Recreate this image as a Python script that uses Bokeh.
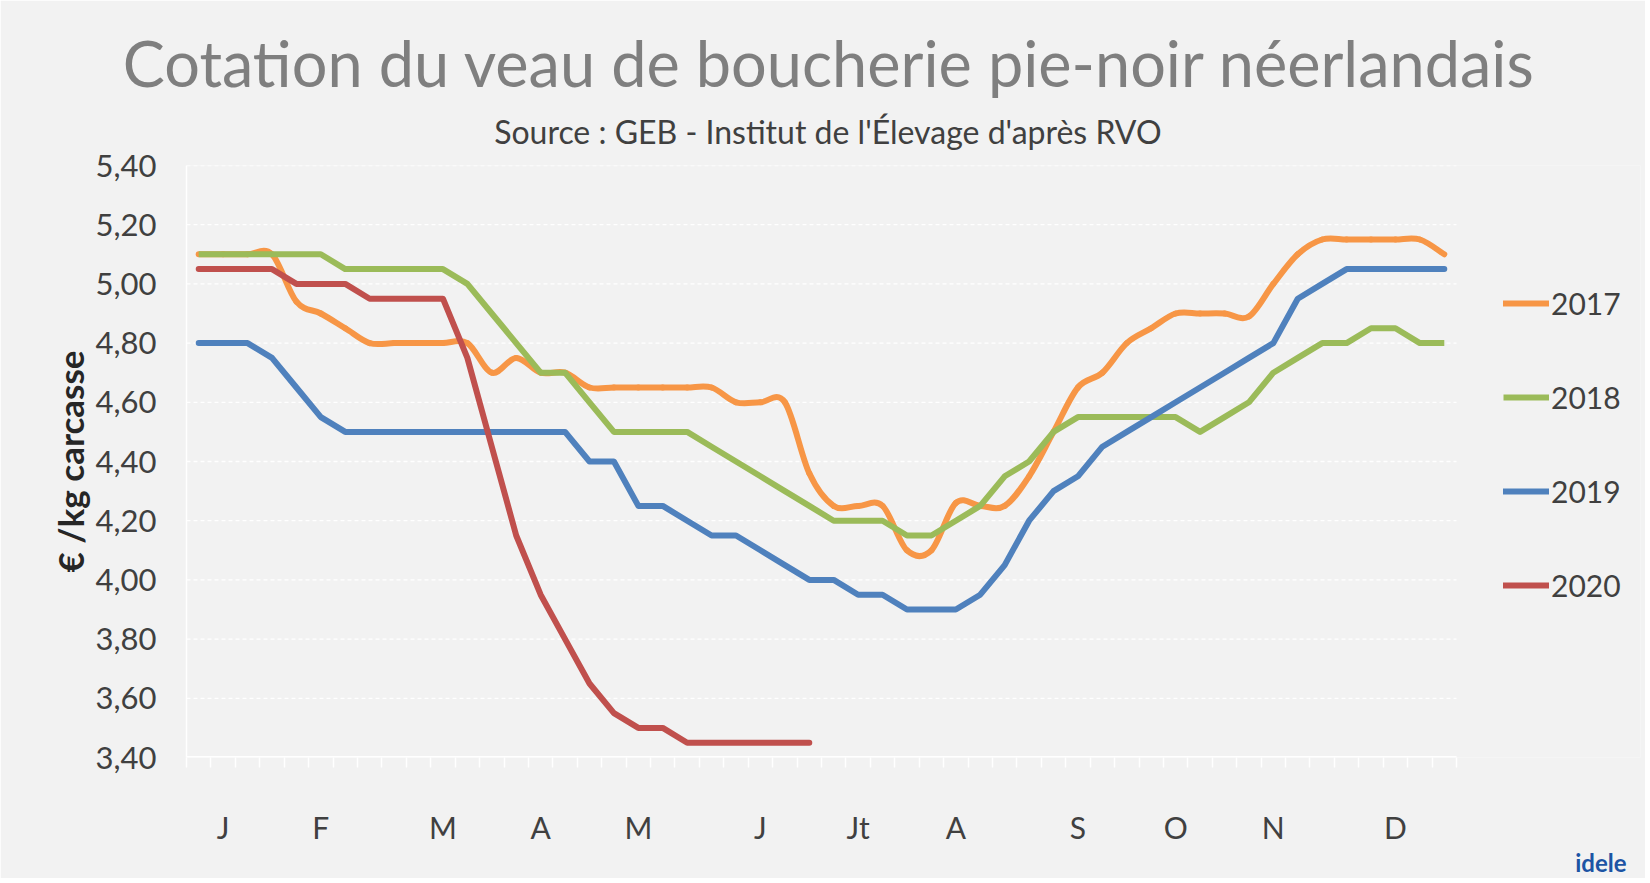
from bokeh.plotting import figure
from bokeh.models import (Range1d, FixedTicker, CustomJSTickFormatter, Legend,
                          LegendItem, Title)
from bokeh.embed import file_html
from bokeh.resources import INLINE

# ---------------- data ----------------
weeks = list(range(1, 53))

s2017 = [5.10, 5.10, 5.10, 5.10, 4.94, 4.90, 4.85, 4.80, 4.80, 4.80,
         4.80, 4.80, 4.70, 4.75, 4.70, 4.70, 4.65, 4.65, 4.65, 4.65,
         4.65, 4.65, 4.60, 4.60, 4.60, 4.36, 4.25, 4.25, 4.25, 4.10,
         4.10, 4.26, 4.25, 4.25, 4.35, 4.50, 4.65, 4.70, 4.80, 4.85,
         4.90, 4.90, 4.90, 4.89, 5.00, 5.10, 5.15, 5.15, 5.15, 5.15,
         5.15, 5.10]

s2018 = [5.10, 5.10, 5.10, 5.10, 5.10, 5.10, 5.05, 5.05, 5.05, 5.05,
         5.05, 5.00, 4.90, 4.80, 4.70, 4.70, 4.60, 4.50, 4.50, 4.50,
         4.50, 4.45, 4.40, 4.35, 4.30, 4.25, 4.20, 4.20, 4.20, 4.15,
         4.15, 4.20, 4.25, 4.35, 4.40, 4.50, 4.55, 4.55, 4.55, 4.55,
         4.55, 4.50, 4.55, 4.60, 4.70, 4.75, 4.80, 4.80, 4.85, 4.85,
         4.80, 4.80]

s2019 = [4.80, 4.80, 4.80, 4.75, 4.65, 4.55, 4.50, 4.50, 4.50, 4.50,
         4.50, 4.50, 4.50, 4.50, 4.50, 4.50, 4.40, 4.40, 4.25, 4.25,
         4.20, 4.15, 4.15, 4.10, 4.05, 4.00, 4.00, 3.95, 3.95, 3.90,
         3.90, 3.90, 3.95, 4.05, 4.20, 4.30, 4.35, 4.45, 4.50, 4.55,
         4.60, 4.65, 4.70, 4.75, 4.80, 4.95, 5.00, 5.05, 5.05, 5.05,
         5.05, 5.05]

weeks2020 = list(range(1, 27))
s2020 = [5.05, 5.05, 5.05, 5.05, 5.00, 5.00, 5.00, 4.95, 4.95, 4.95,
         4.95, 4.75, 4.45, 4.15, 3.95, 3.80, 3.65, 3.55, 3.50, 3.50,
         3.45, 3.45, 3.45, 3.45, 3.45, 3.45]

month_ticks = [2, 6, 11, 15, 19, 24, 28, 32, 37, 41, 45, 50]
month_labels = ["J", "F", "M", "A", "M", "J", "Jt", "A", "S", "O", "N", "D"]
y_ticks = [3.40, 3.60, 3.80, 4.00, 4.20, 4.40, 4.60, 4.80, 5.00, 5.20, 5.40]

series_names = ["2017", "2018", "2019", "2020"]
colors = ["#F79646", "#9BBB59", "#4F81BD", "#C0504D"]

# ---------------- layout ----------------
W, H = 1645, 878
BL, BR, BT, BB = 186, 5, 165, 121
PLOT_W = 1270              # width of the 52-week plotting area in px
FRAME_W = W - BL - BR      # frame also hosts the legend on its right part
X0, X1 = 0.5, 52.5
x_end = X0 + (X1 - X0) * FRAME_W / PLOT_W
FONT = "Lato"
TXT = "#404040"
BG = "#F2F2F2"
LW = 6

p = figure(width=W, height=H, output_backend="svg", toolbar_location=None,
           x_range=Range1d(X0, x_end), y_range=Range1d(y_ticks[0], y_ticks[-1]),
           min_border_left=BL, min_border_right=BR, min_border_top=BT,
           min_border_bottom=BB)
p.background_fill_color = BG
p.border_fill_color = BG
p.outline_line_color = None

# gridlines (dashed) and bottom axis line, limited to the 52-week area
p.xgrid.visible = False
p.ygrid.visible = False
p.segment(x0=[X0] * (len(y_ticks) - 1), y0=y_ticks[1:],
          x1=[X1] * (len(y_ticks) - 1), y1=y_ticks[1:],
          line_color="white", line_width=1.3, line_dash="4 3")
p.segment(x0=[X0], y0=[y_ticks[0]], x1=[X1], y1=[y_ticks[0]],
          line_color="white", line_width=3)

# smoothed 2017 line (Excel-like smoothing via Bezier segments)
def bezier_parts(xs, ys):
    n = len(xs)
    out = dict(x0=[], y0=[], x1=[], y1=[], cx0=[], cy0=[], cx1=[], cy1=[])
    for i in range(n - 1):
        ip = max(i - 1, 0)
        inn = min(i + 2, n - 1)
        out["x0"].append(xs[i]); out["y0"].append(ys[i])
        out["x1"].append(xs[i + 1]); out["y1"].append(ys[i + 1])
        out["cx0"].append(xs[i] + (xs[i + 1] - xs[ip]) / 6.0)
        out["cy0"].append(ys[i] + (ys[i + 1] - ys[ip]) / 6.0)
        out["cx1"].append(xs[i + 1] - (xs[inn] - xs[i]) / 6.0)
        out["cy1"].append(ys[i + 1] - (ys[inn] - ys[i]) / 6.0)
    return out

r17 = p.bezier(**bezier_parts(weeks, s2017), line_color=colors[0],
               line_width=LW, line_cap="round")
r18 = p.line(weeks, s2018, line_color=colors[1], line_width=LW,
             line_join="round", line_cap="butt")
r19 = p.line(weeks, s2019, line_color=colors[2], line_width=LW,
             line_join="round", line_cap="round")
r20 = p.line(weeks2020, s2020, line_color=colors[3], line_width=LW,
             line_join="round", line_cap="round")

# ---------------- axes ----------------
week_edges = [w - 0.5 for w in weeks] + [X1]
xa = p.xaxis[0]
xa.ticker = FixedTicker(ticks=month_ticks, minor_ticks=week_edges)
xa.major_label_overrides = {t: l for t, l in zip(month_ticks, month_labels)}
xa.major_tick_line_color = None
xa.major_tick_out = 0
xa.major_tick_in = 0
xa.minor_tick_line_color = "white"
xa.minor_tick_line_width = 1.5
xa.minor_tick_out = 10
xa.minor_tick_in = 0
xa.axis_line_color = None
xa.major_label_standoff = 41
xa.major_label_text_font = FONT
xa.major_label_text_font_size = "30px"
xa.major_label_text_color = TXT

ya = p.yaxis[0]
ya.ticker = FixedTicker(ticks=y_ticks)
ya.formatter = CustomJSTickFormatter(code="return tick.toFixed(2).replace('.', ',');")
ya.major_tick_line_color = None
ya.major_tick_out = 0
ya.major_tick_in = 0
ya.minor_tick_line_color = None
ya.axis_line_color = "white"
ya.axis_line_width = 1.5
ya.major_label_standoff = 30
ya.major_label_text_font = FONT
ya.major_label_text_font_size = "31px"
ya.major_label_text_color = TXT
ya.axis_label = "€ /kg carcasse"
ya.axis_label_text_font = FONT
ya.axis_label_text_font_style = "bold"
ya.axis_label_text_font_size = "35px"
ya.axis_label_text_color = "#262626"
ya.axis_label_standoff = 2

# ---------------- legend (right of the 52-week area) ----------------
legend = Legend(items=[LegendItem(label=n, renderers=[r])
                       for n, r in zip(series_names, [r17, r18, r19, r20])],
                location=(1317, 154), orientation="vertical",
                glyph_width=46, glyph_height=30, label_height=30,
                spacing=58, padding=0, margin=0, label_standoff=2,
                background_fill_alpha=0, border_line_color=None,
                label_text_font=FONT, label_text_font_size="30px",
                label_text_color=TXT)
p.add_layout(legend, "center")

# ---------------- titles ----------------
p.add_layout(Title(text="Source : GEB - Institut de l'Élevage d'après RVO",
                   align="right", offset=479, vertical_align="top",
                   text_font=FONT, text_font_size="32px",
                   text_font_style="normal", text_color=TXT, standoff=25), "above")
p.add_layout(Title(text="Cotation du veau de boucherie pie-noir néerlandais",
                   align="right", offset=104, vertical_align="bottom",
                   text_font=FONT, text_font_size="63px",
                   text_font_style="normal", text_color="#7F7F7F", standoff=0), "above")

# ---------------- logo text (approximation) ----------------
p.add_layout(Title(text="idele", align="right", offset=14, vertical_align="top",
                   text_font=FONT, text_font_size="24px", text_font_style="bold",
                   text_color="#1C54A4", standoff=0), "below")

open("out.html", "w").write(file_html(p, INLINE))
